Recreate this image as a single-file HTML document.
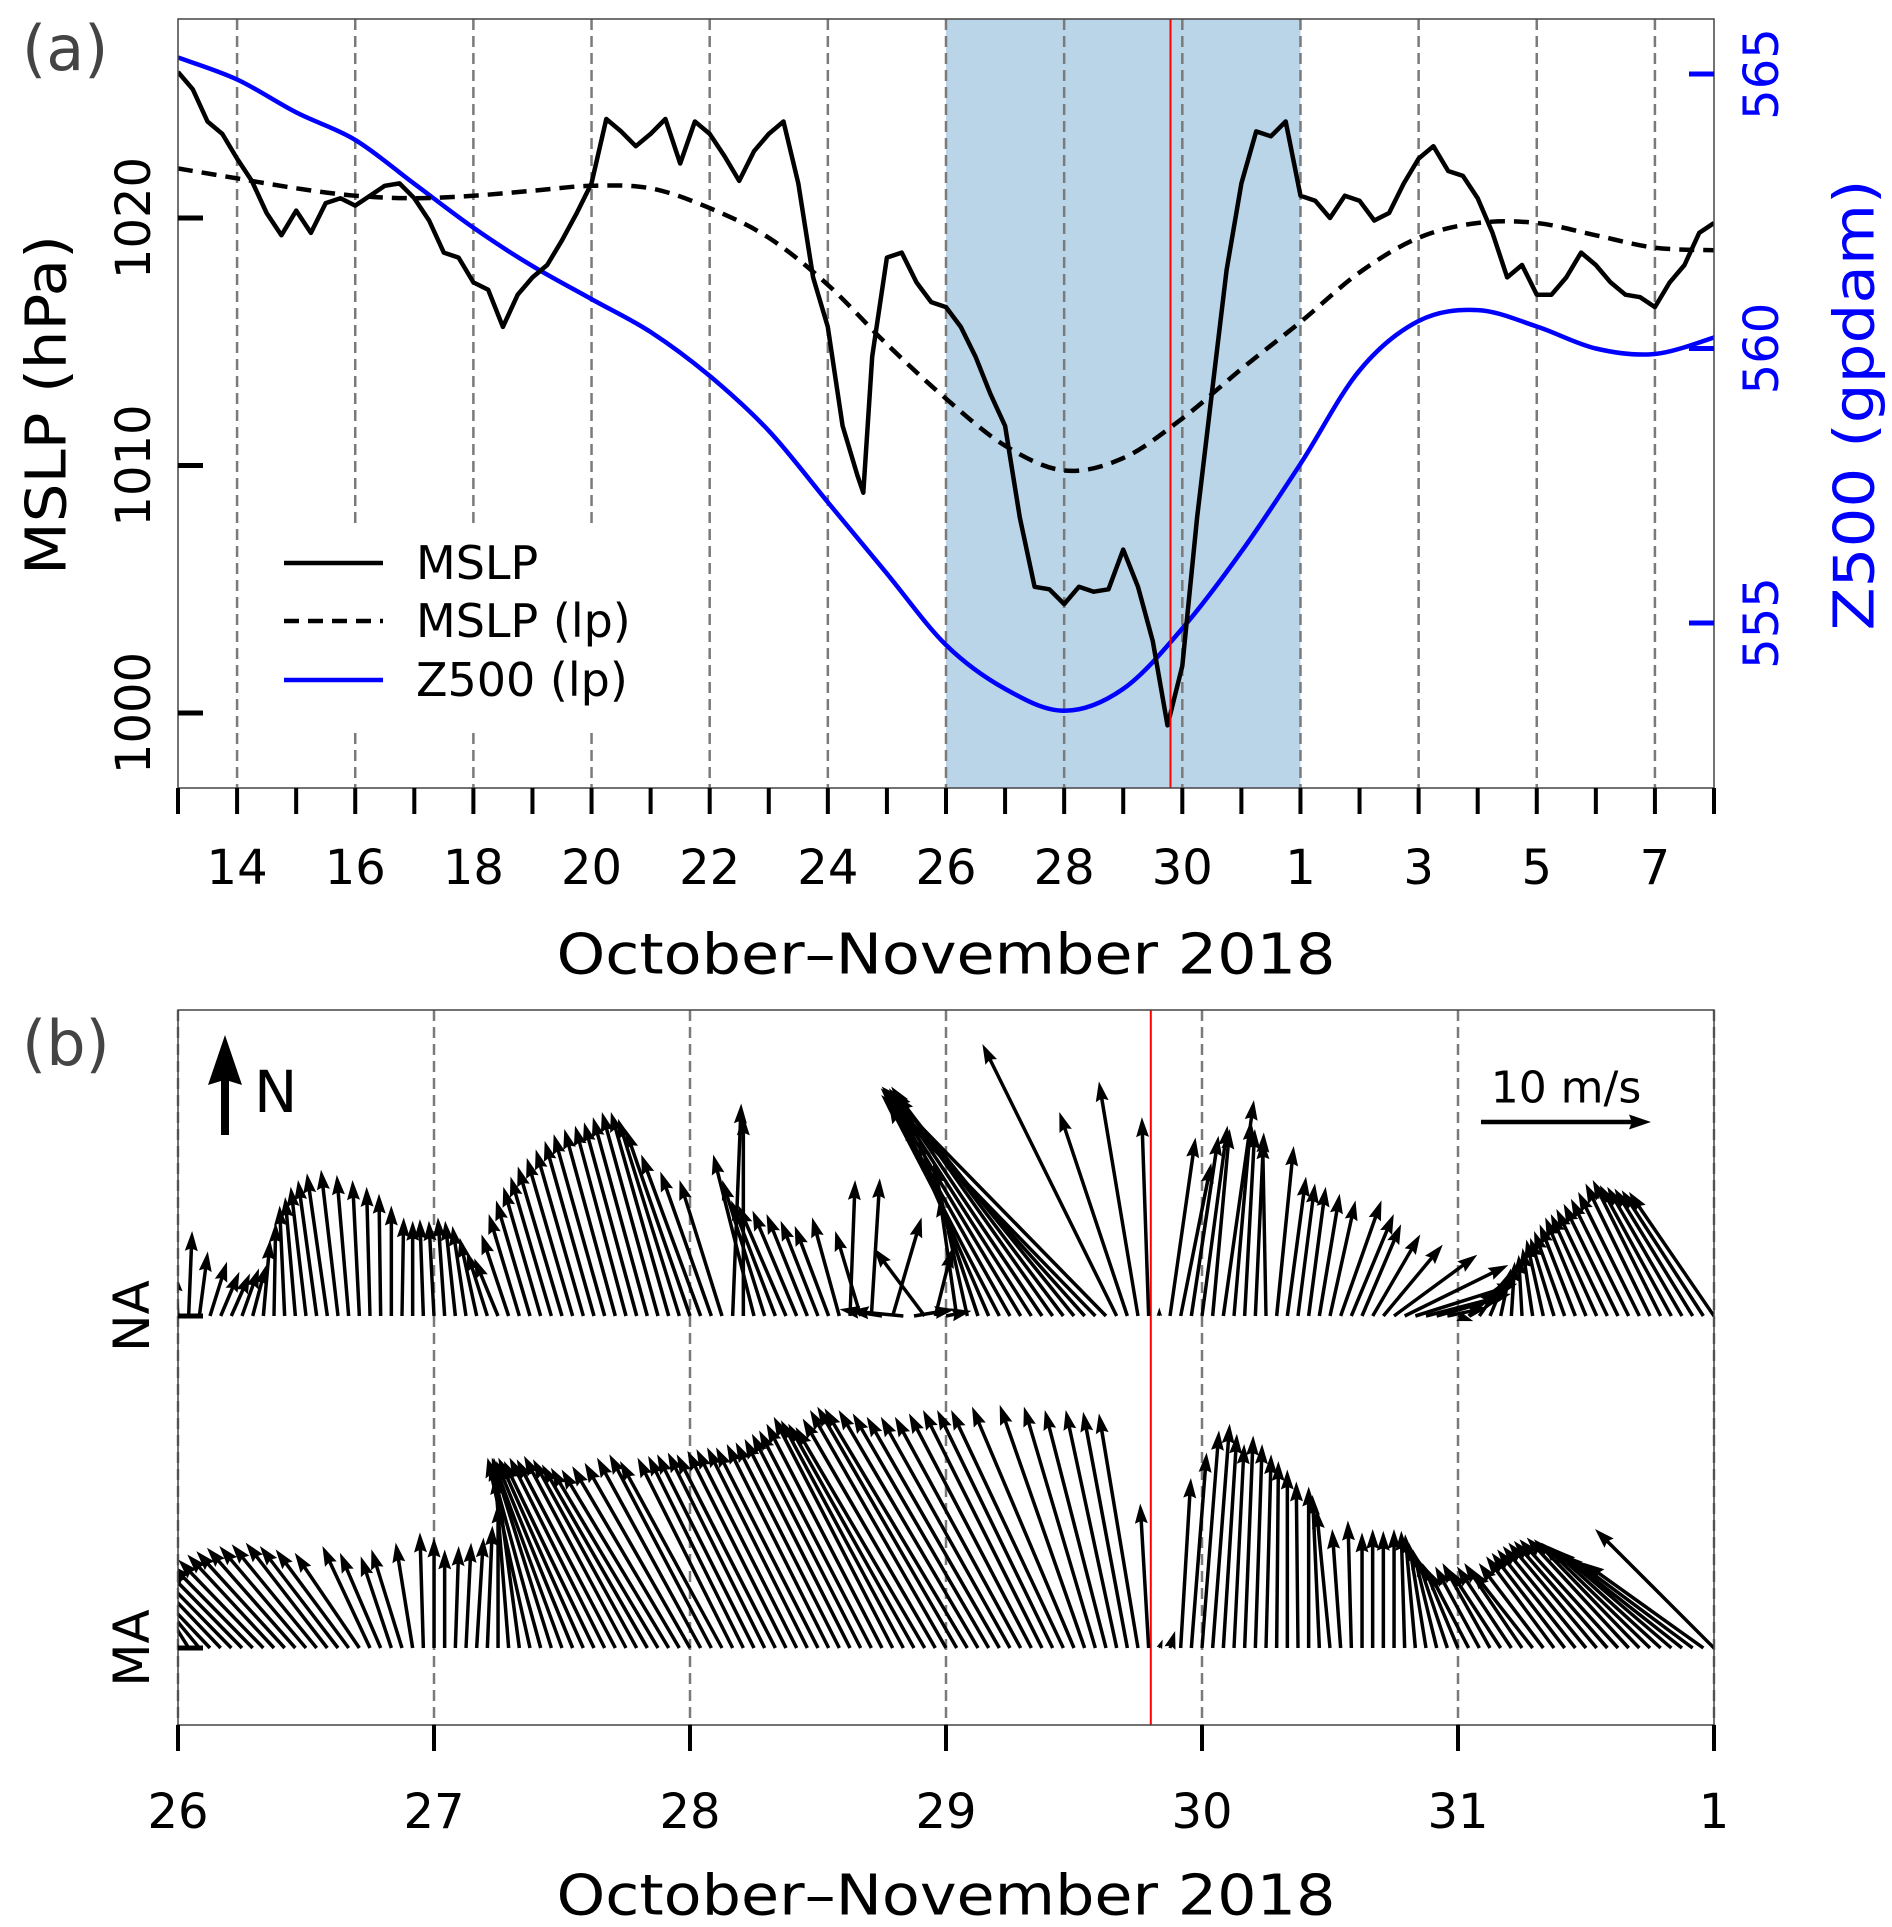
<!DOCTYPE html>
<html><head><meta charset="utf-8"><style>
html,body{margin:0;padding:0;background:#fff;}
svg{display:block;}
text{font-family:"DejaVu Sans","Liberation Sans",sans-serif;}
</style></head><body>
<svg id="chart" width="1892" height="1927" viewBox="0 0 1892 1927" xmlns="http://www.w3.org/2000/svg">
<defs>
<clipPath id="clipA"><rect x="178" y="19" width="1536" height="769"/></clipPath>
<clipPath id="clipB"><rect x="178" y="1010" width="1536" height="715"/></clipPath>
</defs>
<rect x="0" y="0" width="1892" height="1927" fill="#fff"/>
<g id="panelA"></g>
<g id="panelB"></g>
</svg>
<script>
// ---------- Panel (a) data ----------
const mslpDays = [13,13.25,13.5,13.75,14,14.25,14.5,14.75,15,15.25,15.5,15.75,16,16.25,16.5,16.75,17,17.25,17.5,17.75,18,18.25,18.5,18.75,19,19.25,19.5,19.75,20,20.25,20.5,20.75,21,21.25,21.5,21.75,22,22.25,22.5,22.75,23,23.25,23.5,23.75,24,24.25,24.5,24.6,24.75,25,25.25,25.5,25.75,26,26.25,26.5,26.75,27,27.25,27.5,27.75,28,28.25,28.5,28.75,29,29.25,29.5,29.75,30,30.25,30.5,30.75,31,31.25,31.5,31.75,32,32.25,32.5,32.75,33,33.25,33.5,33.75,34,34.25,34.5,34.75,35,35.25,35.5,35.75,36,36.25,36.5,36.75,37,37.25,37.5,37.75,38,38.25,38.5,38.75,39];
const mslpVals = [1025.9,1025.2,1023.9,1023.4,1022.4,1021.5,1020.2,1019.3,1020.3,1019.4,1020.6,1020.8,1020.5,1020.9,1021.3,1021.4,1020.8,1019.9,1018.6,1018.4,1017.4,1017.1,1015.6,1016.9,1017.6,1018.1,1019.1,1020.2,1021.4,1024.0,1023.5,1022.9,1023.4,1024.0,1022.2,1023.9,1023.4,1022.5,1021.5,1022.7,1023.4,1023.9,1021.4,1017.6,1015.6,1011.6,1009.6,1008.9,1014.4,1018.4,1018.6,1017.4,1016.6,1016.4,1015.6,1014.4,1012.9,1011.6,1007.9,1005.1,1005.0,1004.4,1005.1,1004.9,1005.0,1006.6,1005.1,1002.9,999.5,1001.9,1007.9,1012.9,1017.9,1021.4,1023.5,1023.3,1023.9,1020.9,1020.7,1020.0,1020.9,1020.7,1019.9,1020.2,1021.4,1022.4,1022.9,1021.9,1021.7,1020.8,1019.4,1017.6,1018.1,1016.9,1016.9,1017.6,1018.6,1018.1,1017.4,1016.9,1016.8,1016.4,1017.4,1018.1,1019.4,1019.8];
const lpDays = [13,14,15,16,17,18,19,20,21,22,23,24,25,26,27,28,29,30,31,32,33,34,35,36,37,38,39];
const mslpLpVals = [1022.0,1021.6,1021.2,1020.9,1020.8,1020.9,1021.1,1021.3,1021.2,1020.4,1019.2,1017.3,1014.9,1012.7,1010.8,1009.8,1010.3,1011.9,1013.9,1015.8,1017.8,1019.2,1019.8,1019.8,1019.3,1018.8,1018.7];
const z500LpVals = [565.3,564.9,564.3,563.8,563.0,562.2,561.5,560.9,560.3,559.5,558.5,557.2,555.9,554.6,553.8,553.4,553.8,554.9,556.3,557.9,559.6,560.5,560.7,560.4,560.0,559.9,560.2];
const xTickDaysA = [14,16,18,20,22,24,26,28,30,32,34,36,38];
const xTickLabelsA = ["14","16","18","20","22","24","26","28","30","1","3","5","7"];
const yTicksMslp = [1000,1010,1020];
const yTicksZ = [555,560,565];
const shadeStart = 26, shadeEnd = 32, eventDay = 29.8;

// ---------- Panel (b) data (hourly from 26 Oct 00 UTC to 1 Nov 00 UTC) ----------
const naU = [-0.2,0.2,0.5,1.0,1.1,1.1,1.0,0.8,0.4,0.1,-0.3,-0.6,
-0.9,-1.1,-1.2,-1.0,-0.7,-0.4,-0.2,-0.1,0.0,0.1,0.0,-0.2,
-0.3,-0.4,-0.6,-0.8,-1.0,-1.2,-1.4,-1.6,-1.8,-2.0,-2.2,-2.4,
-2.6,-2.7,-2.8,-2.9,-3.0,-3.0,-3.0,-3.1,-3.2,-3.3,-3.4,-3.6,
-3.8,-3.5,-3.0,-2.5,0.5,0.0,-2.4,-2.5,-2.6,-2.8,-2.6,-2.4,
-2.2,-2.0,-1.6,0.3,-1.5,0.5,-2.5,1.7,-3.2,2.4,-3.0,1.0,
1.5,-1.0,-2.0,-3.5,-5.0,-6.5,-7.2,-7.8,-8.4,-9.0,-9.5,-10.0,
-10.5,-12.0,-12.6,-13.2,-7.9,-4.0,-2.3,-0.4,0.0,1.5,1.8,1.6,
1.5,1.0,1.8,1.0,0.6,0.5,-0.2,1.0,1.1,1.0,1.0,1.2,
1.5,2.4,2.5,2.3,2.8,3.5,4.9,6.1,6.0,5.0,3.9,2.4,
0.9,1.8,1.4,1.0,0.6,0.2,-0.2,-0.6,-1.0,-1.4,-1.8,-2.1,
-2.4,-2.7,-3.0,-3.2,-3.4,-3.6,-3.8,-4.0,-4.2,-4.4,-4.6,-4.8,
-5.0];
const naV = [2.6,5.0,3.8,3.2,2.6,2.5,2.8,3.0,4.5,5.5,6.5,7.0,
7.6,8.0,8.4,8.6,8.3,8.0,7.6,7.2,6.5,5.8,5.6,5.7,
5.6,5.8,5.6,5.3,4.6,3.8,3.4,4.8,6.0,6.8,7.6,8.2,
8.8,9.3,9.8,10.3,10.7,11.0,11.2,11.4,11.7,12.0,12.0,11.6,
11.0,9.5,8.5,8.0,12.5,11.8,9.5,8.0,6.8,6.5,6.2,6.0,
5.6,5.3,5.8,8.0,5.0,8.1,0.4,5.8,0.3,0.4,4.0,4.0,
0.3,7.0,9.0,10.5,11.5,12.5,12.8,13.0,13.2,13.4,13.5,13.3,
13.0,13.4,13.0,13.5,16.0,12.0,13.8,11.7,0.5,10.5,9.0,10.6,
11.2,11.0,12.7,11.5,11.0,10.8,10.4,10.0,8.2,7.8,7.6,7.2,
6.8,6.8,6.0,5.4,4.8,4.2,3.6,3.0,1.9,1.3,1.1,0.5,
-0.3,1.6,2.0,2.4,2.8,3.2,3.6,4.0,4.5,4.6,5.0,5.4,
5.8,6.0,6.3,6.6,6.9,7.3,7.8,8.0,7.7,7.6,7.5,7.4,
7.3];
const maU = [-1.0,-2.0,-2.8,-3.4,-3.8,-4.2,-4.5,-4.8,-5.0,-5.1,-5.2,-5.2,
-5.1,-5.0,-4.8,-4.6,-4.3,-3.8,-2.8,-2.4,-1.8,-1.8,-1.0,-0.2,
0.0,0.0,0.2,0.3,0.4,0.3,0.0,-0.8,-1.5,-2.5,-3.0,-3.5,
-4.0,-4.5,-5.0,-5.3,-5.6,-5.8,-6.0,-6.1,-6.2,-6.3,-6.3,-6.3,
-6.2,-6.1,-6.0,-6.0,-5.6,-5.6,-5.7,-5.7,-5.8,-5.8,-5.9,-5.9,
-6.0,-6.0,-6.1,-6.2,-6.4,-6.6,-6.8,-7.0,-7.2,-7.4,-7.6,-7.8,
-8.0,-8.2,-8.4,-8.2,-8.0,-7.8,-7.6,-7.4,-7.2,-7.0,-6.8,-6.6,
-6.0,-5.0,-4.2,-3.6,-3.0,-2.6,-2.3,-0.5,0.2,0.3,0.6,0.9,
1.0,1.0,0.8,0.6,0.5,0.4,0.3,0.1,0.0,-0.1,0.0,-0.4,
-0.8,-0.5,-0.2,0.0,0.0,0.0,0.0,-0.2,-0.6,-1.0,-1.4,-1.8,
-2.1,-2.4,-2.6,-2.8,-3.0,-3.2,-3.4,-3.6,-3.8,-4.0,-4.3,-4.6,
-4.9,-5.2,-5.5,-5.8,-6.0,-6.2,-6.4,-6.6,-6.8,-7.0,-7.0,-7.0,
-7.0];
const maV = [3.0,3.2,3.4,3.6,4.0,4.3,4.6,4.9,5.2,5.5,5.7,5.9,
6.0,6.1,6.2,6.0,5.8,5.6,6.0,5.6,5.4,5.8,6.2,6.8,
6.5,5.8,6.0,6.2,6.5,7.2,8.5,10.2,11.2,11.2,11.0,11.2,
10.9,11.0,11.2,11.0,11.2,11.1,11.3,11.1,10.8,10.6,10.5,10.7,
10.9,11.2,11.4,11.0,11.2,11.3,11.4,11.5,11.4,11.6,11.7,11.8,
11.8,12.0,12.1,12.3,12.6,12.8,13.2,13.6,13.4,13.2,13.0,13.5,
14.0,14.2,14.1,14.0,13.8,13.6,13.6,13.6,13.8,14.0,14.0,14.0,
14.2,14.3,14.2,14.0,14.0,13.9,13.8,8.5,0.5,1.0,10.0,11.5,
12.8,13.2,12.6,12.0,12.5,12.0,11.4,11.0,10.5,9.8,9.5,9.0,
8.2,7.0,7.5,6.8,7.0,6.9,7.0,6.9,6.7,6.2,5.8,5.4,
5.0,4.6,4.8,5.0,4.6,4.8,5.0,4.6,5.0,5.4,5.6,5.8,
6.0,6.2,6.3,6.4,6.5,6.4,6.2,6.0,5.8,5.5,5.2,5.0,
7.0];
const xTickDaysB = [26,27,28,29,30,31,32];
const xTickLabelsB = ["26","27","28","29","30","31","1"];
const rowNames = ["NA","MA"];
const scaleArrowSpeed = 10;

// ---------- helpers ----------
const NS = 'http://www.w3.org/2000/svg';
function mk(tag, attrs, parent){
  const e = document.createElementNS(NS, tag);
  for (const k in attrs) e.setAttribute(k, attrs[k]);
  parent.appendChild(e);
  return e;
}
function txt(parent, s, attrs){ const t = mk('text', attrs, parent); t.textContent = s; return t; }
function smoothPath(pts){
  let d = 'M' + pts[0][0].toFixed(1) + ',' + pts[0][1].toFixed(1);
  for (let i = 0; i < pts.length - 1; i++){
    const p0 = pts[Math.max(0,i-1)], p1 = pts[i], p2 = pts[i+1], p3 = pts[Math.min(pts.length-1,i+2)];
    const c1x = p1[0] + (p2[0]-p0[0])/6, c1y = p1[1] + (p2[1]-p0[1])/6;
    const c2x = p2[0] - (p3[0]-p1[0])/6, c2y = p2[1] - (p3[1]-p1[1])/6;
    d += 'C' + c1x.toFixed(1)+','+c1y.toFixed(1)+' '+c2x.toFixed(1)+','+c2y.toFixed(1)+' '+p2[0].toFixed(1)+','+p2[1].toFixed(1);
  }
  return d;
}

// ---------- Panel (a) ----------
const A = {l:178, r:1714, t:19, b:788, d0:13, d1:39};
const xa = d => A.l + (d - A.d0) * (A.r - A.l) / (A.d1 - A.d0);
const yP = p => 713 - (p - 1000) * 24.75;
const yZ = g => 74 + (565 - g) * 54.9;
const gA = document.getElementById('panelA');

const shade = mk('rect', {x:xa(shadeStart), y:A.t, width:xa(shadeEnd)-xa(shadeStart), height:A.b-A.t, fill:'#bad4e8'}, gA);



xTickDaysA.forEach((d, i) => {
  const ln = mk('line', {x1:xa(d), x2:xa(d), y1:A.t, y2:A.b, stroke:'#7a7a7a', 'stroke-width':2.5, 'stroke-dasharray':'11,6'}, gA);
  
  
});

const legBg = mk('rect', {x:252, y:527, width:392, height:205, fill:'#fff'}, gA);



const clipG = mk('g', {'clip-path':'url(#clipA)'}, gA);



const zPath = mk('path', {d:smoothPath(lpDays.map((d,i)=>[xa(d), yZ(z500LpVals[i])])), fill:'none', stroke:'#0000ff', 'stroke-width':4.5}, clipG);



const lpPath = mk('path', {d:smoothPath(lpDays.map((d,i)=>[xa(d), yP(mslpLpVals[i])])), fill:'none', stroke:'#000', 'stroke-width':4.5, 'stroke-dasharray':'15,9'}, clipG);



const mPath = mk('path', {d:'M' + mslpDays.map((d,i)=>xa(d).toFixed(1)+','+yP(mslpVals[i]).toFixed(1)).join('L'), fill:'none', stroke:'#000', 'stroke-width':4.5, 'stroke-linejoin':'round'}, clipG);



const redA = mk('line', {x1:xa(eventDay), x2:xa(eventDay), y1:A.t, y2:A.b, stroke:'#ff0000', 'stroke-width':2}, gA);



const frameA = mk('rect', {x:A.l, y:A.t, width:A.r-A.l, height:A.b-A.t, fill:'none', stroke:'#444', 'stroke-width':1.5}, gA);



for (let d = A.d0; d <= A.d1; d++){
  const tk = mk('line', {x1:xa(d), x2:xa(d), y1:A.b, y2:A.b+26, stroke:'#000', 'stroke-width':4}, gA);
  
  
}
xTickDaysA.forEach((d, i) => {
  const t = txt(gA, xTickLabelsA[i], {x:xa(d), y:868, 'font-size':48, 'text-anchor':'middle', 'dominant-baseline':'central', fill:'#000'});
  
  
});
yTicksMslp.forEach(p => {
  const tk = mk('line', {x1:A.l, x2:A.l+25, y1:yP(p), y2:yP(p), stroke:'#000', 'stroke-width':5}, gA);
  
  
  const t = txt(gA, String(p), {x:134, y:yP(p), 'font-size':48, 'text-anchor':'middle', 'dominant-baseline':'central', transform:'rotate(-90 134 '+yP(p)+')', fill:'#000'});
  
  
});
yTicksZ.forEach(g => {
  const tk = mk('line', {x1:A.r-25, x2:A.r, y1:yZ(g), y2:yZ(g), stroke:'#0000ff', 'stroke-width':5}, gA);
  
  
  const t = txt(gA, String(g), {x:1762, y:yZ(g), 'font-size':48, 'text-anchor':'middle', 'dominant-baseline':'central', transform:'rotate(-90 1762 '+yZ(g)+')', fill:'#0000ff'});
  
  
});

const legendItems = [['MSLP','#000',''],['MSLP (lp)','#000','15,9'],['Z500 (lp)','#0000ff','']];
const legendYs = [563, 621, 680];
legendItems.forEach((it, i) => {
  const ln = mk('line', {x1:284, x2:383, y1:legendYs[i], y2:legendYs[i], stroke:it[1], 'stroke-width':4.5, 'stroke-dasharray':it[2]||'none'}, gA);
  
  
  const t = txt(gA, it[0], {x:416, y:legendYs[i], 'font-size':46, 'dominant-baseline':'central', fill:'#000'});
  
  
});

const xlabA = txt(gA, 'October–November 2018', {x:946, y:955, 'font-size':56, 'text-anchor':'middle', 'dominant-baseline':'central', fill:'#000', textLength:779, lengthAdjust:'spacingAndGlyphs'});


const ylabA = txt(gA, 'MSLP (hPa)', {x:47, y:405, 'font-size':56, 'text-anchor':'middle', 'dominant-baseline':'central', transform:'rotate(-90 47 405)', fill:'#000', textLength:340, lengthAdjust:'spacingAndGlyphs'});


const ylabZ = txt(gA, 'Z500 (gpdam)', {x:1855, y:405, 'font-size':56, 'text-anchor':'middle', 'dominant-baseline':'central', transform:'rotate(-90 1855 405)', fill:'#0000ff', textLength:451, lengthAdjust:'spacingAndGlyphs'});


const pa = txt(gA, '(a)', {x:22, y:70, 'font-size':62, fill:'#444'});



// ---------- Panel (b) ----------
const B = {l:178, r:1714, t:1010, b:1725, d0:26, d1:32};
const xb = d => B.l + (d - B.d0) * (B.r - B.l) / (B.d1 - B.d0);
const pxPerMs = 17;
const rowBase = [1316, 1648];
const gB = document.getElementById('panelB');

xTickDaysB.forEach((d, i) => {
  const ln = mk('line', {x1:xb(d), x2:xb(d), y1:B.t, y2:B.b, stroke:'#7a7a7a', 'stroke-width':2.5, 'stroke-dasharray':'11,6'}, gB);
  
  
});
const redB = mk('line', {x1:xb(eventDay), x2:xb(eventDay), y1:B.t, y2:B.b, stroke:'#ff0000', 'stroke-width':2}, gB);



function arrowPts(x0, y0, dx, dy, w, hw, hl, ha){
  const L = Math.hypot(dx, dy);
  if (L < 0.5) return null;
  if (L < hl){ const s = L / hl; w *= s; hw *= s; hl *= s; ha *= s; }
  const c = dx / L, s = dy / L;
  const loc = [[0,-w/2],[L-ha,-w/2],[L-hl,-hw/2],[L,0],[L-hl,hw/2],[L-ha,w/2],[0,w/2]];
  return loc.map(p => (x0 + p[0]*c - p[1]*s).toFixed(1) + ',' + (y0 + p[0]*s + p[1]*c).toFixed(1)).join(' ');
}
const quiverG = mk('g', {'clip-path':'url(#clipB)'}, gB);


[[naU, naV], [maU, maV]].forEach((uv, r) => {
  const U = uv[0], V = uv[1];
  for (let i = 0; i < U.length; i++){
    const x0 = xb(26 + i / 24), y0 = rowBase[r];
    const pts = arrowPts(x0, y0, U[i] * pxPerMs, -V[i] * pxPerMs, 3.5, 13, 20, 18);
    if (!pts) continue;
    const p = mk('polygon', {points:pts, fill:'#000'}, quiverG);
    
    
  }
});

const frameB = mk('rect', {x:B.l, y:B.t, width:B.r-B.l, height:B.b-B.t, fill:'none', stroke:'#444', 'stroke-width':1.5}, gB);



xTickDaysB.forEach((d, i) => {
  const tk = mk('line', {x1:xb(d), x2:xb(d), y1:B.b, y2:B.b+26, stroke:'#000', 'stroke-width':4}, gB);
  
  
  const t = txt(gB, xTickLabelsB[i], {x:xb(d), y:1812, 'font-size':48, 'text-anchor':'middle', 'dominant-baseline':'central', fill:'#000'});
  
  
});
rowNames.forEach((nm, r) => {
  const tk = mk('line', {x1:B.l, x2:B.l+25, y1:rowBase[r], y2:rowBase[r], stroke:'#000', 'stroke-width':5}, gB);
  
  
  const t = txt(gB, nm, {x:132, y:rowBase[r], 'font-size':50, 'text-anchor':'middle', 'dominant-baseline':'central', transform:'rotate(-90 132 '+rowBase[r]+')', fill:'#000'});
  
  
});

const nArrow = mk('polygon', {points:arrowPts(225, 1135, 0, -100, 8, 34, 50, 46), fill:'#000'}, gB);


const nTxt = txt(gB, 'N', {x:254, y:1112, 'font-size':58, fill:'#000'});



const sArrow = mk('polygon', {points:arrowPts(1481, 1122, scaleArrowSpeed * pxPerMs, 0, 4.5, 15, 22, 20), fill:'#000'}, gB);


const sTxt = txt(gB, '10 m/s', {x:1566, y:1088, 'font-size':44, 'text-anchor':'middle', 'dominant-baseline':'central', fill:'#000'});



const xlabB = txt(gB, 'October–November 2018', {x:946, y:1896, 'font-size':56, 'text-anchor':'middle', 'dominant-baseline':'central', fill:'#000', textLength:779, lengthAdjust:'spacingAndGlyphs'});


const pb = txt(gB, '(b)', {x:22, y:1065, 'font-size':62, fill:'#444'});


</script>
</body></html>
